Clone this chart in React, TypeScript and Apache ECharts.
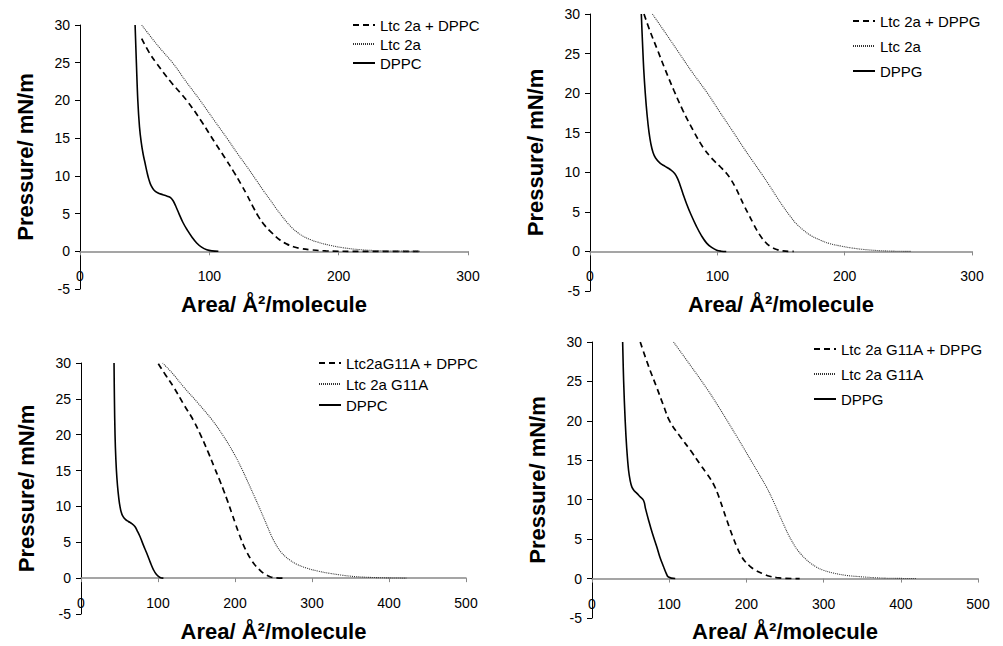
import React, { useEffect, useRef } from "react";
import * as echarts from "echarts";

// Tick values
const yTicks = { min: -5, max: 30, interval: 5 };
const xMaxTop = 300;
const xMaxBottom = 500;

// Axis titles
const xTitle = "Area/ Å²/molecule";
const yTitle = "Pressure/ mN/m";

// Panel 1 (top-left): Ltc 2a with DPPC
const p1Names = ["Ltc 2a + DPPC", "Ltc 2a", "DPPC"];
const p1Mix = [[47.7,28.2],[53,26.5],[59.3,24.9],[70,22.5],[82.5,20],[94,17.2],[104,14.5],[112,12.4],[119,10.5],[124.5,8.9],[129,7.5],[133.5,6.0],[138,4.6],[143,3.4],[148,2.5],[154.6,1.5],[160,0.95],[165,0.6],[171,0.35],[178,0.2],[190,0.05],[210,0],[263,0]];
const p1Pep = [[47.7,30],[60,27.3],[72,24.9],[82,22.5],[92.9,20],[104,17.3],[114,14.9],[122,12.9],[130,11.0],[136,9.5],[142,8.0],[147.5,6.7],[152,5.6],[156,4.7],[160,3.85],[164,3.1],[168.5,2.45],[173,1.95],[178,1.55],[183,1.25],[193,0.8],[203,0.48],[216,0.22],[235,0.06],[263,0]];
const p1Lip = [[42.6,30],[43.6,25],[44.7,20],[46,16.5],[47.3,14.5],[48.8,12.9],[50.3,11.7],[51.8,10.5],[53.3,9.5],[55,8.7],[57.3,8.1],[60,7.75],[64,7.5],[67.5,7.3],[70,7.1],[72,6.7],[74,6.0],[76.5,5.0],[79.5,3.85],[83,2.8],[86.5,1.9],[90.2,1.1],[94,0.55],[98,0.2],[102,0.05],[107,0]];

// Panel 2 (top-right): Ltc 2a with DPPG
const p2Names = ["Ltc 2a + DPPG", "Ltc 2a", "DPPG"];
const p2Mix = [[42.4,30],[47,27.9],[52.9,25.5],[59,23],[66,20.3],[73,17.8],[81,15.3],[89,13.1],[96,11.7],[102.3,10.7],[107,9.9],[111,9.0],[114.5,8.0],[117.8,6.9],[121,5.8],[124.5,4.7],[128,3.6],[131,2.7],[135,1.7],[138.8,1.0],[142.5,0.55],[146.6,0.25],[151,0.07],[157,0],[160,0]];
const p2Pep = [[49,30],[58,27.9],[68.6,25.4],[80,22.7],[92.2,20],[102,17.6],[112,15.2],[121,13],[128.5,11.25],[135,9.75],[141,8.3],[146.6,6.9],[152,5.6],[157,4.5],[162,3.5],[167.5,2.7],[173.5,2.0],[180.6,1.45],[188,1.0],[196.3,0.7],[205,0.45],[215,0.25],[230,0.08],[252,0]];
const p2Lip = [[40.3,30],[41.2,26.5],[42.2,23],[43.4,20],[44.8,17.3],[46.3,15.1],[47.8,13.6],[49.5,12.5],[51.5,11.8],[55,11.15],[59,10.75],[63,10.35],[66.5,9.85],[68.8,9.2],[70.7,8.4],[73,7.3],[75.9,6.0],[79.2,4.7],[83.5,3.2],[87.5,2.0],[91.6,1.05],[95.5,0.5],[99.5,0.15],[103,0.03],[107,0]];

// Panel 3 (bottom-left): Ltc 2a G11A with DPPC
const p3Names = ["Ltc2aG11A + DPPC", "Ltc 2a G11A", "DPPC"];
const p3Mix = [[100.4,29.9],[110,28.3],[120,26.7],[133,24.3],[146,22],[156,19.8],[165,17.6],[173,15.5],[179.5,13.8],[185,12.3],[190.5,10.7],[195.7,9.1],[200.5,7.6],[205.5,6.1],[211,4.6],[216,3.5],[222,2.4],[227,1.7],[232.5,1.1],[239,0.55],[245.5,0.2],[252,0.05],[263,0]];
const p3Pep = [[106,30],[120,28.4],[133,26.7],[152,24.4],[170,22.1],[185,19.8],[198,17.5],[209,15.2],[218,13.1],[226,11.2],[232,9.75],[237,8.5],[241.5,7.35],[246,6.2],[250.5,5.2],[255,4.35],[260,3.6],[265.5,3.0],[271.5,2.5],[280,1.95],[293,1.4],[307,1.0],[323,0.67],[340,0.4],[358,0.2],[385,0.07],[423,0]];
const p3Lip = [[42.9,30],[43.4,25],[44.2,20],[45.3,16.5],[46.6,14],[48.2,12],[50,10.4],[52,9.3],[54.5,8.6],[58,8.15],[61.5,7.9],[66,7.6],[70,7.2],[73,6.6],[76.6,5.8],[81,4.6],[85.3,3.5],[90,2.2],[94,1.2],[98,0.5],[102.6,0.1],[107,0]];

// Panel 4 (bottom-right): Ltc 2a G11A with DPPG
const p4Names = ["Ltc 2a G11A + DPPG", "Ltc 2a G11A", "DPPG"];
const p4Mix = [[62.5,30],[73,27],[84,24.2],[92,22.1],[101,19.9],[115,17.9],[128,16.2],[140,14.5],[148,13.4],[154,12.55],[158.5,11.75],[162.5,10.85],[166,9.9],[170,8.75],[174.5,7.45],[179,6.2],[183,5.15],[187.5,4.05],[192,3.1],[198,2.2],[204.7,1.55],[212,1.05],[221.9,0.6],[230,0.3],[239,0.12],[250,0.03],[269,0]];
const p4Pep = [[105.6,30],[127,27.1],[148.7,24.1],[162,22.1],[174.6,20.1],[187,18.1],[198,16.3],[207,14.8],[216,13.3],[226,11.6],[235,9.8],[243.5,7.9],[249,6.7],[255,5.45],[260.7,4.45],[266,3.65],[272,2.95],[277,2.45],[282.4,2.0],[290,1.5],[300,1.05],[312.6,0.7],[328,0.42],[347,0.24],[365,0.12],[382,0.05],[420,0]];
const p4Lip = [[39.7,30],[41,25],[43,20],[45,16.5],[47.4,13.7],[49.5,12.4],[51.7,11.6],[55,11.1],[58.2,10.8],[62,10.4],[66.8,9.9],[69.5,8.8],[73.3,7.4],[78,5.8],[84,4],[88,2.7],[92.7,1.5],[96,0.7],[99,0.2],[107.8,0]];

const FONT = "'Liberation Sans', Arial, sans-serif";

const panels = [
  { names: p1Names, data: [p1Mix, p1Pep, p1Lip], xMax: xMaxTop,
    grid: { left: 80, top: 25, width: 388, height: 264 },
    legend: { left: 352, top: 17, itemGap: 3 } },
  { names: p2Names, data: [p2Mix, p2Pep, p2Lip], xMax: xMaxTop,
    grid: { left: 590, top: 14, width: 382, height: 277 },
    legend: { left: 852, top: 13, itemGap: 9 } },
  { names: p3Names, data: [p3Mix, p3Pep, p3Lip], xMax: xMaxBottom,
    grid: { left: 81, top: 363, width: 385, height: 251 },
    legend: { left: 318, top: 355, itemGap: 5 } },
  { names: p4Names, data: [p4Mix, p4Pep, p4Lip], xMax: xMaxBottom,
    grid: { left: 592, top: 342, width: 386, height: 276 },
    legend: { left: 813, top: 341, itemGap: 9 } },
];

const lineStyles = [
  { color: "#000", width: 1.7, type: [6, 4] },
  { color: "#333", width: 1.1, type: [1, 1] },
  { color: "#000", width: 1.6, type: "solid" },
];

export default function App() {
  const ref = useRef<HTMLDivElement>(null);
  useEffect(() => {
    if (!ref.current) return;
    const chart = echarts.init(ref.current, null, { renderer: "svg" });
    const grid: any[] = [];
    const xAxis: any[] = [];
    const yAxis: any[] = [];
    const legend: any[] = [];
    const series: any[] = [];
    panels.forEach((p, i) => {
      grid.push({ ...p.grid, containLabel: false });
      // lift the x axis from the grid bottom (y = min) up to y = 0
      const zeroLift = (p.grid.height * (0 - yTicks.min)) / (yTicks.max - yTicks.min);
      xAxis.push({
        type: "value", gridIndex: i, min: 0, max: p.xMax, interval: 100,
        position: "bottom", offset: -zeroLift,
        axisLine: { show: true, onZero: false, lineStyle: { color: "#888", width: 1.5 } },
        axisTick: { show: true, length: 4, lineStyle: { color: "#888" } },
        axisLabel: { color: "#000", fontSize: 14, fontFamily: FONT, margin: 18 },
        splitLine: { show: false },
        name: xTitle, nameLocation: "middle", nameGap: 42,
        nameTextStyle: { color: "#000", fontSize: 22, fontWeight: "bold", fontFamily: FONT },
      });
      yAxis.push({
        type: "value", gridIndex: i, min: yTicks.min, max: yTicks.max, interval: yTicks.interval,
        axisLine: { show: true, onZero: false, lineStyle: { color: "#000", width: 1 } },
        axisTick: { show: true, length: 5, lineStyle: { color: "#000" } },
        axisLabel: { color: "#000", fontSize: 14, fontFamily: FONT, margin: 10 },
        splitLine: { show: false },
        name: yTitle, nameLocation: "middle", nameGap: 44,
        nameTextStyle: { color: "#000", fontSize: 22, fontWeight: "bold", fontFamily: FONT },
      });
      legend.push({
        orient: "vertical", left: p.legend.left, top: p.legend.top, itemGap: p.legend.itemGap,
        itemWidth: 22, itemHeight: 14, padding: 0,
        data: p.names,
        itemStyle: { opacity: 0, color: "transparent", borderWidth: 0 },
        textStyle: { color: "#000", fontSize: 15, fontFamily: FONT, lineHeight: 16 },
        selectedMode: false,
      });
      p.data.forEach((d, k) => {
        series.push({
          type: "line", name: p.names[k], xAxisIndex: i, yAxisIndex: i,
          data: d, smooth: 0.4, symbol: "none", showSymbol: false,
          lineStyle: lineStyles[k], itemStyle: { color: lineStyles[k].color },
          z: 3,
        });
      });
    });
    chart.setOption({
      animation: false,
      backgroundColor: "#fff",
      textStyle: { fontFamily: FONT },
      grid, xAxis, yAxis, legend, series,
    });
    return () => chart.dispose();
  }, []);
  return (
    <div ref={ref} style={{ position: "absolute", left: 0, top: 0, width: 1003, height: 646 }} />
  );
}
